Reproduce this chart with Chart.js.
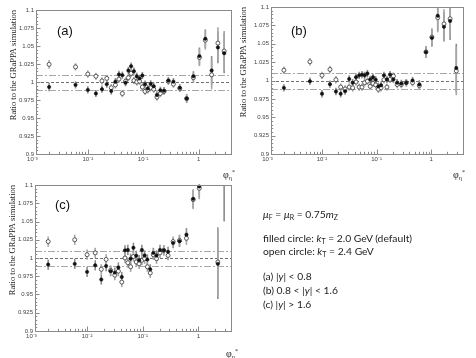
<!DOCTYPE html>
<html>
<head>
<meta charset="utf-8">
<script src="https://cdn.jsdelivr.net/npm/chart.js@4.4.1/dist/chart.umd.min.js"></script>
<style>
  body { margin: 0; background: #fff; width: 476px; height: 358px; position: relative; overflow: hidden; }
  canvas { position: absolute; }
  .lbl { position: absolute; font-family: "Liberation Sans", sans-serif; font-size: 13px; line-height: 13px; color: #111; }
  .xt { position: absolute; font-family: "Liberation Serif", serif; font-size: 10px; line-height: 10px; color: #222; }
  .xt sub { font-size: 6px; vertical-align: -2px; }
  .xt sup { font-size: 6px; vertical-align: 4px; }
  .note { position: absolute; left: 263px; font-family: Lato, "Open Sans", sans-serif; font-size: 10.3px; line-height: 13px; color: #222; white-space: nowrap; }
  .note sub { font-size: 7px; vertical-align: -2px; }
</style>
</head>
<body>
<canvas id="ca" width="236" height="178" style="left:0;top:0"></canvas>
<canvas id="cb" width="240" height="178" style="left:236px;top:0"></canvas>
<canvas id="cc" width="236" height="180" style="left:0;top:178px"></canvas>

<div class="lbl" style="left:57px;top:24px">(a)</div>
<div class="lbl" style="left:291px;top:24px">(b)</div>
<div class="lbl" style="left:55px;top:198px">(c)</div>

<div class="xt" style="left:223px;top:167px">φ<sub>η</sub><sup>*</sup></div>
<div class="xt" style="left:453px;top:167px">φ<sub>η</sub><sup>*</sup></div>
<div class="xt" style="left:226px;top:346px">φ<sub>η</sub><sup>*</sup></div>

<div class="note" style="top:208px"><i>μ</i><sub>F</sub> = <i>μ</i><sub>R</sub> = 0.75<i>m</i><sub>Z</sub></div>
<div class="note" style="top:232px">filled circle: <i>k</i><sub>T</sub> = 2.0 GeV (default)</div>
<div class="note" style="top:245px">open circle: <i>k</i><sub>T</sub> = 2.4 GeV</div>
<div class="note" style="top:270px">(a) |<i>y</i>| &lt; 0.8</div>
<div class="note" style="top:284px">(b) 0.8 &lt; |<i>y</i>| &lt; 1.6</div>
<div class="note" style="top:298px">(c) |<i>y</i>| &gt; 1.6</div>

<script>
// bin centres in phi_eta*
const phiBins = [0.002, 0.006, 0.010, 0.014, 0.018, 0.022, 0.0265, 0.0315, 0.0365, 0.042, 0.048, 0.054,
  0.0605, 0.068, 0.0765, 0.086, 0.0965, 0.108, 0.121, 0.1365, 0.155, 0.177, 0.204, 0.2385, 0.285,
  0.3515, 0.4575, 0.6095, 0.8065, 1.0355, 1.3245, 1.7215, 2.2345, 2.8995];

// (a) |y| < 0.8
const aFilled = [0.993, 0.996, 0.989, 0.984, 0.990, 0.997, 0.9875, 1.0005, 1.0105, 1.0095, 0.999, 1.016,
  1.022, 1.015, 1.008, 1.005, 1.009, 0.997, 0.991, 0.9975, 0.994, 0.982, 0.9885, 0.988, 1.002,
  1.0005, 0.992, 0.977, 1.008, 1.036, 1.060, 1.016, 1.048, 1.040];
const aOpen = [1.0245, 1.021, 1.011, 1.008, 1.0015, 1.005, 0.992, 0.996, 1.004, 0.984, 1.001, 1.006,
  1.012, 1.002, 1.000, 1.001, 0.993, 0.987, 0.989, 0.992, 0.990, 0.979, 0.984, 0.987, 1.001,
  0.997, 0.991, 0.977, 1.006, 1.034, 1.058, 1.010, 1.054, 1.043];
const aErr = [0.006, 0.005, 0.005, 0.005, 0.005, 0.005, 0.005, 0.005, 0.005, 0.005, 0.005, 0.005,
  0.005, 0.005, 0.005, 0.005, 0.005, 0.005, 0.005, 0.005, 0.005, 0.005, 0.005, 0.005, 0.005,
  0.005, 0.005, 0.006, 0.007, 0.012, 0.013, 0.020, 0.022, 0.028];

// (b) 0.8 < |y| < 1.6
const bFilled = [0.990, 0.999, 0.982, 0.995, 0.985, 0.982, 0.9855, 1.002, 0.997, 1.0045, 1.007, 1.008,
  1.007, 1.0095, 1.0015, 1.0045, 1.001, 0.992, 0.9935, 1.007, 1.0015, 1.008, 1.0015, 0.997, 0.996,
  0.997, 1.000, 0.9945, 1.0386, 1.058, 1.088, 1.073, 1.081, 1.017];
const bOpen = [1.014, 1.0255, 1.007, 1.015, 1.001, 0.991, 0.9885, 0.991, 0.990, 0.998, 0.991, 0.991,
  0.997, 0.999, 0.992, 0.996, 0.994, 0.988, 0.990, 1.001, 0.991, 1.0015, 1.006, 0.9945, 0.9945,
  0.997, 0.997, 0.993, 1.039, 1.059, 1.0855, 1.077, 1.084, 1.013];
const bErr = [0.005, 0.005, 0.005, 0.005, 0.005, 0.005, 0.005, 0.005, 0.005, 0.005, 0.005, 0.005,
  0.005, 0.005, 0.005, 0.005, 0.005, 0.005, 0.005, 0.005, 0.005, 0.005, 0.005, 0.005, 0.005,
  0.005, 0.005, 0.006, 0.008, 0.012, 0.020, 0.020, 0.026, 0.033];

// (c) |y| > 1.6
const cFilled = [0.991, 0.992, 0.981, 0.990, 0.9705, 0.989, 0.982, 0.980, 0.987, 0.974, 1.0105, 1.011,
  0.999, 1.014, 1.003, 0.997, 1.011, 1.0035, 0.998, 0.9845, 1.007, 1.0035, 1.011, 1.0105, 1.0085,
  1.0205, 1.023, 1.032, 1.081, 1.098, null, null, 0.992, 1.13];
const cOpen = [1.0225, 1.025, 1.0045, 1.007, 0.9845, 0.998, 0.983, 0.9765, 0.982, 0.967, 1.000, 0.9935,
  0.988, 1.002, 0.9945, 0.992, 0.997, 0.999, 0.988, 0.9795, 1.0045, 0.999, 1.007, 1.0105, 1.0035,
  1.0225, 1.024, 1.027, 1.080, 1.0955, null, null, 0.9945, null];
const cErr = [0.007, 0.007, 0.007, 0.007, 0.007, 0.007, 0.007, 0.007, 0.007, 0.007, 0.007, 0.007,
  0.007, 0.007, 0.007, 0.007, 0.007, 0.007, 0.007, 0.007, 0.007, 0.007, 0.007, 0.007, 0.007,
  0.007, 0.008, 0.009, 0.013, 0.015, null, null, 0.048, 0.080];

const refLevels = [1.01, 1.0, 0.989];
const yTickVals = [0.9, 0.925, 0.95, 0.975, 1.0, 1.025, 1.05, 1.075, 1.1];
const yTickLabels = ['0.9', '0.925', '0.95', '0.975', '1', '1.025', '1.05', '1.075', '1.1'];
const xTickVals = [0.001, 0.01, 0.1, 1];
const xTickLabels = ['10⁻³', '10⁻²', '10⁻¹', '1'];

function points(vals, err) {
  return phiBins.map((x, i) => ({ x: x, y: vals[i], e: err[i] })).filter(p => p.y !== null);
}

// error bars, reference lines, frame and inward ticks
const rootStyle = {
  id: 'rootStyle',
  beforeDatasetsDraw(chart) {
    const { ctx, chartArea: a, scales: { x, y } } = chart;
    ctx.save();
    ctx.beginPath();
    ctx.rect(a.left, a.top, a.right - a.left, a.bottom - a.top);
    ctx.clip();
    refLevels.forEach((v, i) => {
      const py = Math.round(y.getPixelForValue(v)) + 0.5;
      ctx.beginPath();
      ctx.strokeStyle = i === 1 ? '#6f6f6f' : '#a8a8a8';
      ctx.lineWidth = 1;
      ctx.setLineDash(i === 1 ? [3, 2] : [7, 2, 2, 2]);
      ctx.moveTo(a.left, py);
      ctx.lineTo(a.right, py);
      ctx.stroke();
    });
    ctx.setLineDash([]);
    chart.data.datasets.forEach(ds => {
      ctx.strokeStyle = ds.errColor;
      ctx.lineWidth = 1.6;
      ds.data.forEach(p => {
        if (p.e === null) return;
        const px = x.getPixelForValue(p.x);
        ctx.beginPath();
        ctx.moveTo(px, y.getPixelForValue(p.y - p.e));
        ctx.lineTo(px, y.getPixelForValue(p.y + p.e));
        ctx.stroke();
      });
    });
    ctx.restore();
  },
  afterDraw(chart) {
    const { ctx, chartArea: a, scales: { x, y } } = chart;
    ctx.save();
    ctx.strokeStyle = '#8a8a8a';
    ctx.lineWidth = 1;
    ctx.strokeRect(Math.round(a.left) + 0.5, Math.round(a.top) + 0.5,
      Math.round(a.right - a.left), Math.round(a.bottom - a.top));
    ctx.beginPath();
    for (let k = 0; k <= 40; k++) {
      const py = Math.round(y.getPixelForValue(0.9 + k * 0.005)) + 0.5;
      ctx.moveTo(a.left, py);
      ctx.lineTo(a.left + (k % 5 === 0 ? 4.5 : 2.2), py);
    }
    for (let d = -3; d <= 0; d++) {
      for (let m = 1; m <= 9; m++) {
        const v = m * Math.pow(10, d);
        if (v < x.min || v > x.max) continue;
        const px = Math.round(x.getPixelForValue(v)) + 0.5;
        ctx.moveTo(px, a.bottom);
        ctx.lineTo(px, a.bottom - (m === 1 ? 4.5 : 2.2));
      }
    }
    ctx.stroke();
    ctx.restore();
  }
};

function makePanel(id, filled, open, err, g) {
  return new Chart(document.getElementById(id), {
    type: 'scatter',
    data: {
      datasets: [
        {
          label: 'filled circle', data: points(filled, err), errColor: '#8c8c8c',
          pointRadius: 1.7, pointBackgroundColor: '#111', pointBorderColor: '#111', pointBorderWidth: 0.5, clip: 3
        },
        {
          label: 'open circle', data: points(open, err), errColor: '#a6a6a6',
          pointRadius: 2, pointBackgroundColor: '#fff', pointBorderColor: '#333', pointBorderWidth: 0.8, clip: 3
        }
      ]
    },
    options: {
      responsive: false,
      animation: false,
      layout: { padding: { top: g.top, right: g.right, left: 0, bottom: 0 } },
      plugins: { legend: { display: false }, tooltip: { enabled: false } },
      scales: {
        x: {
          type: 'logarithmic', min: 0.00116, max: 3.85,
          afterFit(s) { s.height = g.xh; },
          afterBuildTicks(s) { s.ticks = xTickVals.map(v => ({ value: v })); },
          ticks: {
            callback: (v, i) => xTickLabels[i], maxRotation: 0, autoSkip: false, padding: 2,
            font: { family: 'Liberation Sans', size: 6 }, color: '#444'
          },
          grid: { display: false, drawTicks: false },
          border: { display: false }
        },
        y: {
          min: 0.9, max: 1.1,
          afterFit(s) { s.width = g.yw; },
          afterBuildTicks(s) { s.ticks = yTickVals.map(v => ({ value: v })); },
          ticks: {
            callback: (v, i) => yTickLabels[i], padding: 2,
            font: { family: 'Liberation Sans', size: 6 }, color: '#444'
          },
          grid: { display: false, drawTicks: false },
          border: { display: false },
          title: {
            display: true, text: 'Ratio to the GRaPPA simulation', align: 'end',
            font: { family: 'Liberation Serif', size: 8.5 }, color: '#222',
            padding: { top: g.tp, bottom: 0 }
          }
        }
      }
    },
    plugins: [rootStyle]
  });
}

makePanel('ca', aFilled, aOpen, aErr, { top: 10, right: 5, xh: 24, yw: 36, tp: 9 });
makePanel('cb', bFilled, bOpen, bErr, { top: 7, right: 13, xh: 24, yw: 35, tp: 3 });
makePanel('cc', cFilled, cOpen, cErr, { top: 7, right: 5, xh: 27, yw: 35, tp: 8 });
</script>
</body>
</html>
